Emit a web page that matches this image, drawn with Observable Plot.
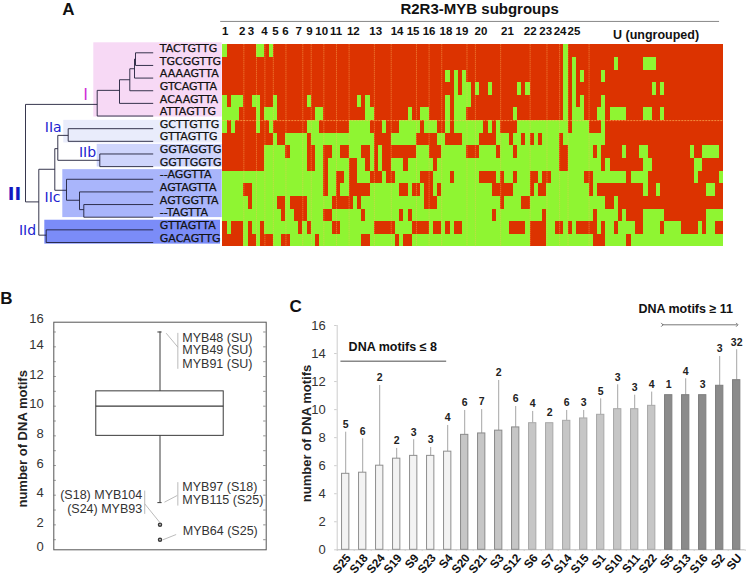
<!DOCTYPE html>
<html><head><meta charset="utf-8">
<script src="https://cdn.jsdelivr.net/npm/d3@7"></script>
<script src="https://cdn.jsdelivr.net/npm/@observablehq/plot@0.6"></script>
<style>
html,body{margin:0;padding:0;background:#fff}
#c{position:relative;width:746px;height:577px;overflow:hidden}
#c svg{position:absolute;left:0;top:0;background:transparent;max-width:none}
</style></head><body><div id="c"></div>
<script>
const SANS="Liberation Sans, Arial, sans-serif";
// ---------- Panel A data
const motifs=["TACTGTTG","TGCGGTTG","AAAAGTTA","GTCAGTTA","ACAAGTTA","ATTAGTTG","GCTTGTTG","GTTAGTTG","GGTAGGTG","GGTTGGTG","--AGGTTA","AGTAGTTA","AGTGGTTA","--TAGTTA","GTTAGTTA","GACAGTTG"];
const columnCount=119;
// rows 0-6: runs of present (green) subfamily members on red
const greenRuns=[
[[0,0],[8,9],[11,11],[81,81]],
[[81,81],[83,83],[93,93],[100,102]],
[[53,53],[55,55],[57,57],[81,81],[83,83],[85,85],[90,90]],
[[55,55],[57,58],[60,60],[63,63],[70,70],[72,72],[81,81],[83,83],[102,102],[104,104]],
[[0,0],[2,4],[7,8],[12,12],[20,20],[32,32],[34,34],[53,53],[55,58],[81,81],[83,83],[85,85],[90,90]],
[[0,3],[8,8],[10,12],[22,23],[34,35],[44,44],[47,48],[53,53],[55,57],[69,69],[81,81],[83,85],[89,90],[92,95],[100,101],[104,104]],
[[0,0],[2,2],[8,8],[11,11],[20,22],[30,34],[38,38],[42,46],[48,50],[53,53],[55,61],[63,63],[65,65],[70,81],[83,86],[90,90]]
];
// rows 7-15: runs of absent (red) on green
const redRuns=[
[[0,11],[13,14],[20,20],[36,39],[46,50],[53,56],[61,64],[68,68],[71,71],[73,73],[75,75],[80,80],[91,118]],
[[0,9],[15,15],[20,21],[24,25],[28,29],[33,34],[36,36],[38,45],[49,51],[58,60],[65,65],[69,69],[80,81],[88,88],[90,94],[96,98],[101,110],[112,113],[118,118]],
[[0,9],[20,21],[24,24],[30,31],[34,34],[36,36],[38,39],[43,43],[50,50],[80,81],[90,90],[92,99],[102,111],[114,118]],
[[24,24],[27,28],[30,31],[35,37],[39,40],[47,49],[54,54],[61,64],[66,66],[69,69],[73,74],[76,77],[86,87],[96,96],[101,111],[113,117]],
[[5,6],[24,24],[27,27],[30,34],[42,43],[45,46],[48,49],[51,51],[64,68],[73,73],[75,76],[87,87],[89,99],[101,102],[104,114],[117,118]],
[[6,6],[13,14],[16,19],[26,30],[32,32],[48,50],[66,66],[71,72],[91,92],[94,118]],
[[14,14],[17,19],[24,25],[33,33],[42,42],[44,44],[64,64],[76,76],[88,88],[94,94],[96,99],[105,114]],
[[0,0],[2,4],[6,6],[9,9],[18,18],[20,20],[26,27],[36,40],[45,48],[50,51],[53,53],[55,56],[68,71],[73,76],[79,80],[82,82],[84,88],[90,90],[93,93],[98,99],[104,104],[109,112],[114,114],[117,118]],
[[0,4],[6,7],[9,11],[14,15],[22,22],[33,34],[41,41],[43,44],[73,76],[88,90],[96,96]]
];
const groupBreaks=[5,8,10,12,15,19,21,24,27,30,36,40,46,49,52,58,60,66,73,77,80,82,87];
const groupNames=["1","2","3","4","5","6","7","9","10","11","12","13","14","15","16","18","19","20","21","22","23","24","25"];
const groupLabelCols=[0.6,4.6,6.7,9.9,12.5,14.9,18,20.6,23.5,26.9,31,36.3,41.4,45.2,49,53,56.8,61.3,67.6,73,76.7,80.1,83.4];
// tree: [x1,y1,x2,y2], x in branch length, y in leaf rank
const treeEdges=[[25,4.08,25,11.79],[25,4.08,96.7,4.08],[96.7,2.97,96.7,5],[96.7,5,152.7,5],[96.7,2.97,119,2.97],[119,2.13,119,4],[119,4,152.7,4],[119,2.13,129.3,2.13],[129.3,1.26,129.3,3],[129.3,3,152.7,3],[129.3,1.26,134,1.26],[134,0.5,134,2],[134,2,152.7,2],[134,0.5,135,0.5],[135,0,135,1],[135,0,152.7,0],[135,1,152.7,1],
[25,11.79,38.3,11.79],[38.3,9.21,38.3,14.42],[38.3,14.42,45.7,14.42],[45.7,14,45.7,15],[45.7,14,152.7,14],[45.7,15,152.7,15],[38.3,9.21,54.3,9.21],[54.3,7.58,54.3,10.87],[54.3,10.87,66,10.87],[66,10,66,11.66],[66,10,152.7,10],[66,11.66,79,11.66],[79,11,79,12.4],[79,11,152.7,11],[79,12.4,83.3,12.4],[83.3,12,83.3,13],[83.3,12,152.7,12],[83.3,13,152.7,13],[54.3,7.58,57.3,7.58],[57.3,6.53,57.3,8.5],[57.3,6.53,67.7,6.53],[67.7,6,67.7,7],[67.7,6,152.7,6],[67.7,7,152.7,7],[57.3,8.5,99.3,8.5],[99.3,8,99.3,9],[99.3,8,152.7,8],[99.3,9,152.7,9]];
const cladeBands=[[93.3,-0.79,221.7,5.08,"#f7d9f5"],[63.3,5.34,221.7,7.13,"#e9ecfb"],[96.7,7.24,221.7,9.03,"#cfd5fc"],[62.3,9.24,221.7,13.03,"#a9b5fb"],[44.3,13.24,220,15.13,"#7b8cf8"]];
const cladeLabels=[["I",85,3.3,"#d030d8",16,"normal"],["IIa",52.7,5.9,"#1c24d0",14,"normal"],["IIb",87,7.88,"#1c24d0",14,"normal"],["IIc",52,11.44,"#1c24d0",14,"normal"],["IId",27,14.05,"#1c24d0",14,"normal"],["II",14,11.2,"#1018c0",18,"bold"]];
// ---------- Panel B data
const boxStats={whiskerLow:3.5,q1:8,median:10,q3:11,whiskerHigh:15};
const outliers=[2,1];
const boxTicks=[2,4,6,8,10,12,14];
const minorTicks=d3.range(1,16);
const boxNotes=[["MYB48 (SU)",0.605,14.61,"start"],["MYB49 (SU)",0.605,13.76,"start"],["MYB91 (SU)",0.605,12.86,"start"],["MYB97 (S18)",0.605,4.54,"start"],["MYB115 (S25)",0.605,3.69,"start"],["(S18) MYB104",0.416,3.98,"end"],["(S24) MYB93",0.416,3.08,"end"],["MYB64 (S25)",0.607,1.62,"start"]];
const boxLeaders=[[0.584,14.94,0.584,12.52],[0.529,14.92,0.584,13.98],[0.584,4.88,0.584,3.3],[0.521,3.53,0.581,3.98],[0.428,4.31,0.428,2.74],[0.428,3.42,0.502,2.11],[0.513,0.99,0.576,1.35]];
// ---------- Panel C data
const subgroups=["S25","S18","S24","S19","S9","S23","S4","S20","S21","S3","S12","S6","S7","S14","S15","S1","S10","S11","S22","S5","S13","S16","S2","SU"];
const motifMeans=[5.42,5.5,6,6.5,6.7,6.7,7,8.2,8.3,8.5,8.73,9.03,9.03,9.2,9.37,9.63,10.03,10.03,10.27,11.03,11.03,11.03,11.7,12.1];
const errorTops=[8.39,7.92,11.72,7.23,7.85,7.3,8.87,9.94,10,12.08,10.22,9.87,null,9.94,9.94,10.77,11.77,11.03,11.25,null,12.2,null,13.79,14.27];
const memberCounts=[5,6,2,2,3,3,4,6,7,2,6,4,2,6,3,5,3,3,4,1,4,3,3,32];
const barFills=subgroups.map((_,i)=>i<7?"#f3f3f3":i<19?"#c6c6c6":"#8b8b8b");
const barStrokes=subgroups.map((_,i)=>i<7?"#8f8f8f":i<11?"#8a8a8a":i<19?"#a8a8a8":"#7d7d7d");
const barTicks=[0,2,4,6,8,10,12,14,16];

const c=document.getElementById("c");
const add=p=>c.appendChild(p);
const W=746,H=577;
const base={width:W,height:H,axis:null,style:{background:"transparent"}};

// Tree
add(Plot.plot({...base,marginLeft:0,marginRight:0,marginTop:52.3,marginBottom:335,
  x:{domain:[0,W],range:[0,W]},y:{domain:[0,15],range:[52.3,242]},
  marks:[
    Plot.rect(cladeBands,{x1:d=>d[0],y1:d=>d[1],x2:d=>d[2],y2:d=>d[3],fill:d=>d[4]}),
    Plot.link(treeEdges,{x1:d=>d[0],y1:d=>d[1],x2:d=>d[2],y2:d=>d[3],stroke:"#20203a",strokeWidth:0.9}),
    Plot.text(motifs,{x:()=>159.3,y:(d,i)=>i,text:d=>d,dy:-4.4,textAnchor:"start",fontFamily:"DejaVu Sans",fontSize:11,fill:"#111",stroke:"#111",strokeWidth:0.25}),
    ...cladeLabels.map(l=>Plot.text([l],{x:d=>d[1],y:d=>d[2],text:d=>d[0],fill:d=>d[3],fontSize:l[4],fontWeight:l[5],fontFamily:"DejaVu Sans"})),
    Plot.text(["A"],{x:()=>68,y:()=>-3.42,text:d=>d,fontSize:17,fontWeight:"bold",fontFamily:SANS,fill:"#111"})
  ]}));

// Heat map
const flat=(runs,offset)=>runs.flatMap((r,i)=>r.map(([a,b])=>({x1:a,x2:b+1,y1:i+offset,y2:i+offset+1})));
add(Plot.plot({...base,marginLeft:222.3,marginRight:22.7,marginTop:44.3,marginBottom:330.6,
  x:{domain:[0,columnCount]},y:{domain:[0,16],range:[44.3,246.4]},
  marks:[
    Plot.rect([[0,7,"#dc3300"],[7,16,"#8ff532"]],{x1:()=>0,x2:()=>columnCount,y1:d=>d[0],y2:d=>d[1],fill:d=>d[2],shapeRendering:"crispEdges"}),
    Plot.rect(flat(greenRuns,0),{x1:"x1",x2:"x2",y1:"y1",y2:"y2",fill:"#8ff532",shapeRendering:"crispEdges"}),
    Plot.rect(flat(redRuns,7),{x1:"x1",x2:"x2",y1:"y1",y2:"y2",fill:"#dc3300",shapeRendering:"crispEdges"}),
    Plot.ruleX(groupBreaks,{y1:0,y2:16,stroke:"#ffc060",strokeOpacity:0.75,strokeWidth:0.8,strokeDasharray:"1 1"}),
    Plot.ruleY([6],{x1:0,x2:columnCount,stroke:"#ffc060",strokeOpacity:0.8,strokeWidth:0.8,strokeDasharray:"2 1"}),
    Plot.ruleY([-1.85],{x1:-0.5,x2:118,stroke:"#888",strokeWidth:1}),
    Plot.text(groupNames,{x:(d,i)=>groupLabelCols[i],y:()=>-1.05,text:d=>d,fontSize:11.5,fontWeight:"bold",fontFamily:SANS,fill:"#111"}),
    Plot.text(["U (ungrouped)"],{x:()=>102.9,y:()=>-0.75,text:d=>d,fontSize:12.5,fontWeight:"bold",fontFamily:SANS,fill:"#111"}),
    Plot.text(["R2R3-MYB subgroups"],{x:()=>61,y:()=>-2.8,text:d=>d,fontSize:15,fontWeight:"bold",fontFamily:SANS,fill:"#111"})
  ]}));

// Box plot
const ink="#3a3a3a";
add(Plot.plot({...base,marginLeft:53.3,marginRight:480.3,marginTop:321.7,marginBottom:27.7,
  x:{domain:[0,1]},y:{domain:[0.32,15.66]},
  marks:[
    Plot.frame({stroke:"#555",strokeWidth:1}),
    Plot.ruleY(minorTicks,{x1:0,x2:0.012,stroke:"#777",strokeWidth:0.8}),
    Plot.ruleY(minorTicks,{x1:0.988,x2:1,stroke:"#777",strokeWidth:0.8}),
    Plot.ruleX([0.5],{y1:boxStats.whiskerLow,y2:boxStats.whiskerHigh,stroke:ink}),
    Plot.rect([boxStats],{x1:()=>0.2,x2:()=>0.8,y1:"q1",y2:"q3",fill:"#fff",stroke:ink,strokeWidth:1}),
    Plot.ruleY([boxStats.median],{x1:0.2,x2:0.8,stroke:ink,strokeWidth:1.2}),
    Plot.ruleY([boxStats.whiskerLow,boxStats.whiskerHigh],{x1:0.49,x2:0.51,stroke:ink}),
    Plot.dot(outliers,{x:()=>0.5,y:d=>d,r:1.5,stroke:ink,fill:"#fff"}),
    Plot.link(boxLeaders,{x1:d=>d[0],y1:d=>d[1],x2:d=>d[2],y2:d=>d[3],stroke:"#aaa",strokeWidth:0.8}),
    Plot.text(boxNotes.filter(d=>d[3]=="start"),{x:d=>d[1],y:d=>d[2],text:d=>d[0],textAnchor:"start",fontSize:12.5,fontFamily:SANS,fill:"#333"}),
    Plot.text(boxNotes.filter(d=>d[3]=="end"),{x:d=>d[1],y:d=>d[2],text:d=>d[0],textAnchor:"end",fontSize:12.5,fontFamily:SANS,fill:"#333"}),
    Plot.text(boxTicks,{x:()=>0,y:d=>d,text:d=>String(d),dx:-10,dy:-2,textAnchor:"end",fontSize:13,fontFamily:SANS,fill:"#333"}),
    Plot.text([0],{x:()=>0,y:()=>0,text:d=>String(d),dx:-10,dy:-8,textAnchor:"end",fontSize:13,fontFamily:SANS,fill:"#333"}),
    Plot.text([16],{x:()=>0,y:d=>d,text:d=>String(d),dx:-10,dy:2,textAnchor:"end",fontSize:13,fontFamily:SANS,fill:"#333"}),
    Plot.text(["number of DNA motifs"],{x:()=>-0.145,y:()=>7.8,text:d=>d,rotate:-90,fontSize:13,fontWeight:"bold",fontFamily:SANS,fill:"#222"}),
    Plot.text(["B"],{x:()=>-0.223,y:()=>17.26,text:d=>d,fontSize:17,fontWeight:"bold",fontFamily:SANS,fill:"#111"})
  ]}));

// Bars
const rows=subgroups.map((s,i)=>({s,i,v:motifMeans[i],e:errorTops[i],n:memberCounts[i],f:barFills[i],k:barStrokes[i]}));
add(Plot.plot({...base,marginLeft:336.7,marginRight:1.3,marginTop:325,marginBottom:27.7,
  x:{domain:[0,24]},y:{domain:[0,16]},
  marks:[
    Plot.ruleX([0],{y1:0,y2:16,stroke:"#ccc"}),
    Plot.ruleY(barTicks,{x1:-0.15,x2:0,stroke:"#ccc"}),
    Plot.ruleY([0],{x1:0,x2:24,stroke:"#bbb"}),
    Plot.ruleX(d3.range(0,25),{y1:-0.12,y2:0,stroke:"#ccc"}),
    Plot.ruleX(rows.filter(d=>d.e!=null),{x:d=>d.i+0.5,y1:"v",y2:"e",stroke:"#a6a6a6",strokeWidth:1}),
    Plot.rect(rows,{x1:d=>d.i+0.285,x2:d=>d.i+0.715,y1:()=>0,y2:"v",fill:"f",stroke:"k",strokeWidth:1}),
    Plot.text(rows,{x:d=>d.i+0.5,y:d=>d.e==null?d.v+0.25:d.e,text:"n",dy:-7.5,fontSize:10.5,fontWeight:"bold",fontFamily:SANS,fill:"#222"}),
    Plot.text(rows,{x:d=>d.i+0.5,y:()=>0,text:"s",dx:3,dy:6,rotate:-50,textAnchor:"end",fontSize:11.8,fontWeight:"bold",fontFamily:SANS,fill:"#111"}),
    Plot.text(barTicks,{x:()=>0,y:d=>d,text:d=>String(d),dx:-11.5,textAnchor:"end",fontSize:13,fontFamily:SANS,fill:"#333"}),
    Plot.text(["number of DNA motifs"],{x:()=>-1.76,y:()=>8.3,text:d=>d,rotate:-90,fontSize:13,fontWeight:"bold",fontFamily:SANS,fill:"#222"}),
    Plot.link([[0.19,6.41]],{x1:d=>d[0],x2:d=>d[1],y1:()=>13.45,y2:()=>13.45,stroke:"#888",strokeWidth:1.3}),
    Plot.link([[19.12,23.53]],{x1:d=>d[0],x2:d=>d[1],y1:()=>16.05,y2:()=>16.05,stroke:"#555",strokeWidth:0.8,markerStart:"arrow",markerEnd:"arrow"}),
    Plot.text(["DNA motifs ≤ 8"],{x:()=>3.27,y:()=>14.45,text:d=>d,fontSize:12.5,fontWeight:"bold",fontFamily:SANS,fill:"#111"}),
    Plot.text(["DNA motifs ≥ 11"],{x:()=>20.5,y:()=>17.15,text:d=>d,fontSize:12.5,fontWeight:"bold",fontFamily:SANS,fill:"#111"}),
    Plot.text(["C"],{x:()=>-2.45,y:()=>17.37,text:d=>d,fontSize:17,fontWeight:"bold",fontFamily:SANS,fill:"#111"})
  ]}));
</script></body></html>
